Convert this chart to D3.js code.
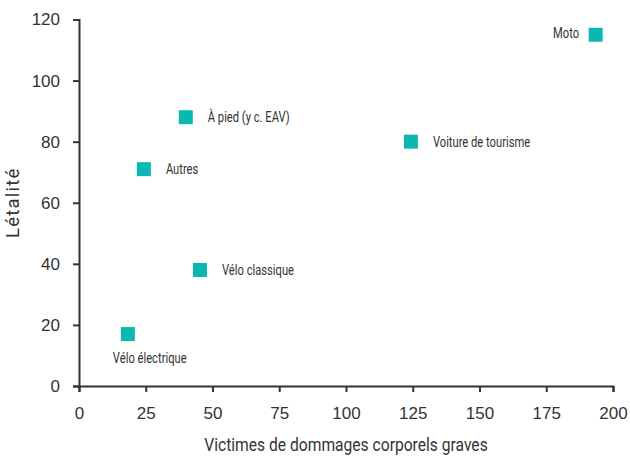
<!DOCTYPE html><html><head><meta charset="utf-8"><script src="https://cdn.jsdelivr.net/npm/d3@7"></script>
<style>body{margin:0;background:#fff}</style></head><body><svg id="chart" width="630" height="457"></svg><script>
// Data
const categories = ["Moto","Voiture de tourisme","À pied (y c. EAV)","Autres","Vélo classique","Vélo électrique"];
const injuries   = [193.5, 124.3, 40, 24.3, 45.3, 18.3];   // Victimes de dommages corporels graves
const lethality  = [115, 80, 88, 71, 38, 17];               // Létalité
const labelSide  = ["left","right","right","right","right","below"];
const xTicks = [0,25,50,75,100,125,150,175,200];
const yTicks = [0,20,40,60,80,100,120];
const xTitle = "Victimes de dommages corporels graves";
const yTitle = "Létalité";

const W=630,H=457, m={top:19.5,right:17,bottom:71,left:79};
const svg=d3.select("#chart");
const x=d3.scaleLinear().domain([0,200]).range([m.left,W-m.right]);
const y=d3.scaleLinear().domain([0,120]).range([H-m.bottom,m.top]);
const ink="#333333", teal="#0bb8b1";

const gx=svg.append("g").attr("transform",`translate(0,${y(0)})`)
  .call(d3.axisBottom(x).tickValues(xTicks).tickFormat(d3.format("d")).tickSize(6).tickPadding(15));
const gy=svg.append("g").attr("transform",`translate(${x(0)},0)`)
  .call(d3.axisLeft(y).tickValues(yTicks).tickFormat(d3.format("d")).tickSize(6).tickPadding(13));
[gx,gy].forEach(g=>{
  g.selectAll("path,line").attr("stroke",ink).attr("stroke-width",2);
  g.selectAll("text").attr("fill",ink).style("font-family","'Liberation Sans', Arial, sans-serif").style("font-size","17px");
});

// Axis titles
svg.append("text").attr("transform",`translate(${(x(0)+x(200))/2},451) scale(0.845,1)`)
  .attr("text-anchor","middle").attr("fill",ink)
  .style("font-family","Roboto, sans-serif").style("font-size","18.5px").text(xTitle);
svg.append("text").attr("transform",`translate(18.5,${(y(0)+y(120))/2}) rotate(-90)`)
  .attr("text-anchor","middle").attr("fill",ink)
  .style("font-family","Roboto, sans-serif").style("font-size","18.5px").style("letter-spacing","1.2px").text(yTitle);

// Points
const data=categories.map((c,i)=>({c,x:injuries[i],y:lethality[i],side:labelSide[i]}));
const s=14;
svg.append("g").selectAll("rect").data(data).join("rect")
  .attr("x",d=>x(d.x)-s/2).attr("y",d=>y(d.y)-s/2).attr("width",s).attr("height",s).attr("fill",teal);

// Labels
const lg=svg.append("g").selectAll("g").data(data).join("g")
  .attr("transform",d=>{
    const px=x(d.x),py=y(d.y);
    if(d.side==="left") return `translate(${px-16.5},${py+3.5}) scale(0.8,1)`;
    if(d.side==="below") return `translate(${px-15},${py+29}) scale(0.8,1)`;
    return `translate(${px+22},${py+5}) scale(0.8,1)`;
  });
lg.append("text").attr("text-anchor",d=>d.side==="left"?"end":"start")
  .attr("fill",ink).style("font-family","Roboto, sans-serif").style("font-size","14px").text(d=>d.c);
</script></body></html>
